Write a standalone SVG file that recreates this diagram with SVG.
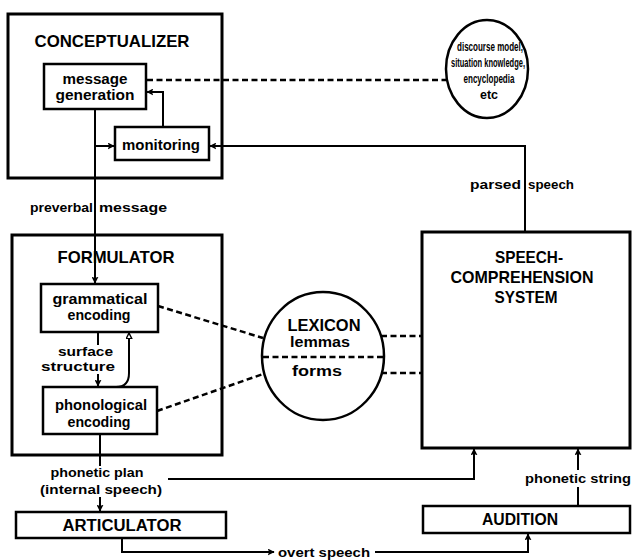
<svg xmlns="http://www.w3.org/2000/svg" width="633" height="560" viewBox="0 0 633 560">
<style>
.box{fill:none;stroke:#000;stroke-width:3}
.ibox{fill:#fff;stroke:#000;stroke-width:2.5}
.ln{fill:none;stroke:#000;stroke-width:2}
.ds{fill:none;stroke:#000;stroke-width:2.5;stroke-dasharray:6 3.5}
text{font-family:"Liberation Sans","DejaVu Sans",sans-serif;font-weight:bold;fill:#000}
.t{font-size:14px;text-anchor:middle}
.s{font-size:13px}
.h{font-size:17px;text-anchor:middle}
.e{font-size:12px;text-anchor:middle}
</style>
<defs>
<marker id="ar" viewBox="0 0 10 10" refX="9" refY="5" markerWidth="7" markerHeight="7" markerUnits="userSpaceOnUse" orient="auto">
<path d="M0,0 L10,5 L0,10 L2,5 z" fill="#000"/>
</marker>
<marker id="ao" viewBox="0 0 10 10" refX="9" refY="5" markerWidth="7" markerHeight="7" markerUnits="userSpaceOnUse" orient="auto">
<path d="M1,1 L9,5 L1,9 z" fill="#fff" stroke="#000" stroke-width="2"/>
</marker>
</defs>
<rect width="633" height="560" fill="#fff"/>

<g id="conceptualizer">
<rect class="box" x="8" y="14" width="214" height="164"/>
<text class="h" x="112" y="47" textLength="155" lengthAdjust="spacingAndGlyphs">CONCEPTUALIZER</text>
</g>
<g id="message-generation">
<rect class="ibox" x="44" y="64" width="102" height="45"/>
<text class="t" x="95" y="84" textLength="65" lengthAdjust="spacingAndGlyphs">message</text>
<text class="t" x="95" y="100" textLength="79" lengthAdjust="spacingAndGlyphs">generation</text>
</g>
<g id="monitoring">
<rect class="ibox" x="115" y="127" width="94" height="33"/>
<text class="t" x="161" y="150" textLength="78" lengthAdjust="spacingAndGlyphs">monitoring</text>
</g>
<g id="knowledge">
<ellipse cx="487" cy="69" rx="41" ry="49" fill="#fff" stroke="#000" stroke-width="2.5"/>
<text class="e" x="490" y="51" textLength="66" lengthAdjust="spacingAndGlyphs">discourse model,</text>
<text class="e" x="488" y="67" textLength="74" lengthAdjust="spacingAndGlyphs">situation knowledge,</text>
<text class="e" x="489" y="83" textLength="51" lengthAdjust="spacingAndGlyphs">encyclopedia</text>
<text class="e" x="489" y="99" textLength="18" lengthAdjust="spacingAndGlyphs">etc</text>
</g>
<g id="formulator">
<rect class="box" x="12" y="235" width="210" height="220"/>
<text class="h" x="116" y="263" textLength="117" lengthAdjust="spacingAndGlyphs">FORMULATOR</text>
</g>
<g id="grammatical-encoding">
<rect class="ibox" x="41" y="284" width="117" height="48"/>
<text class="t" x="100" y="304" textLength="95" lengthAdjust="spacingAndGlyphs">grammatical</text>
<text class="t" x="99" y="320" textLength="63" lengthAdjust="spacingAndGlyphs">encoding</text>
</g>
<g id="phonological-encoding">
<rect class="ibox" x="43" y="387" width="114" height="47"/>
<text class="t" x="101" y="410" textLength="92" lengthAdjust="spacingAndGlyphs">phonological</text>
<text class="t" x="99" y="427" textLength="63" lengthAdjust="spacingAndGlyphs">encoding</text>
</g>
<g id="lexicon">
<ellipse cx="323" cy="356" rx="61" ry="64" fill="#fff" stroke="#000" stroke-width="2.5"/>
<line class="ds" x1="263" y1="357" x2="383" y2="357"/>
<text class="h" x="324" y="331" textLength="73" lengthAdjust="spacingAndGlyphs" style="font-size:16px">LEXICON</text>
<text class="t" x="320" y="347" textLength="60" lengthAdjust="spacingAndGlyphs">lemmas</text>
<text class="t" x="317" y="376" textLength="50" lengthAdjust="spacingAndGlyphs">forms</text>
</g>
<g id="speech-comprehension">
<rect class="box" x="422" y="232" width="208" height="216"/>
<text class="h" x="529" y="263" textLength="68" lengthAdjust="spacingAndGlyphs">SPEECH-</text>
<text class="h" x="522" y="283" textLength="143" lengthAdjust="spacingAndGlyphs">COMPREHENSION</text>
<text class="h" x="526" y="303" textLength="63" lengthAdjust="spacingAndGlyphs">SYSTEM</text>
</g>
<g id="articulator">
<rect class="ibox" x="16" y="512" width="210" height="26"/>
<text class="h" x="122" y="531" textLength="119" lengthAdjust="spacingAndGlyphs" style="font-size:16px">ARTICULATOR</text>
</g>
<g id="audition">
<rect class="ibox" x="423" y="506" width="207" height="27"/>
<text class="h" x="520" y="525" textLength="76" lengthAdjust="spacingAndGlyphs" style="font-size:16px">AUDITION</text>
</g>

<g id="connectors">
<path class="ln" d="M95 109 V283" marker-end="url(#ar)"/>
<path class="ln" d="M95 146 H114" marker-end="url(#ar)"/>
<path class="ln" d="M163 127 V92 H147" marker-end="url(#ar)"/>
<path class="ds" d="M147 80 H446"/>
<path class="ln" d="M525 232 V146 H210" marker-end="url(#ar)"/>
<path class="ln" d="M98 332 V345"/>
<path class="ln" d="M98 374 V386" marker-end="url(#ar)"/>
<path class="ln" d="M116 387 Q129 387 129 373 V333" marker-end="url(#ao)"/>
<path class="ds" d="M158 306 L263 338"/>
<path class="ds" d="M157 411 L263 374"/>
<path class="ds" d="M381 336 H422"/>
<path class="ds" d="M381 373 H422"/>
<path class="ln" d="M100 434 V466"/>
<path class="ln" d="M100 497 V511" marker-end="url(#ar)"/>
<path class="ln" d="M168 479 H474 V449" marker-end="url(#ar)"/>
<path class="ln" d="M122 538 V552 H274" marker-end="url(#ar)"/>
<path class="ln" d="M375 552 H528 V534" marker-end="url(#ar)"/>
<path class="ln" d="M578 506 V487"/>
<path class="ln" d="M578 470 V449" marker-end="url(#ar)"/>
<text class="s" x="93" y="212" text-anchor="end" textLength="63" lengthAdjust="spacingAndGlyphs">preverbal</text>
<text class="s" x="99" y="212" textLength="68" lengthAdjust="spacingAndGlyphs">message</text>
<text class="s" x="113" y="356" text-anchor="end" textLength="55" lengthAdjust="spacingAndGlyphs">surface</text>
<text class="s" x="115" y="371" text-anchor="end" textLength="74" lengthAdjust="spacingAndGlyphs">structure</text>
<text class="s" x="521" y="189" text-anchor="end" textLength="51" lengthAdjust="spacingAndGlyphs">parsed</text>
<text class="s" x="528" y="189" textLength="46" lengthAdjust="spacingAndGlyphs">speech</text>
<text class="s" x="97" y="477" text-anchor="middle" textLength="93" lengthAdjust="spacingAndGlyphs">phonetic plan</text>
<text class="s" x="101" y="494" text-anchor="middle" textLength="122" lengthAdjust="spacingAndGlyphs">(internal speech)</text>
<text class="s" x="278" y="557" textLength="92" lengthAdjust="spacingAndGlyphs">overt speech</text>
<text class="s" x="578" y="483" text-anchor="middle" textLength="106" lengthAdjust="spacingAndGlyphs">phonetic string</text>
</g>
</svg>
